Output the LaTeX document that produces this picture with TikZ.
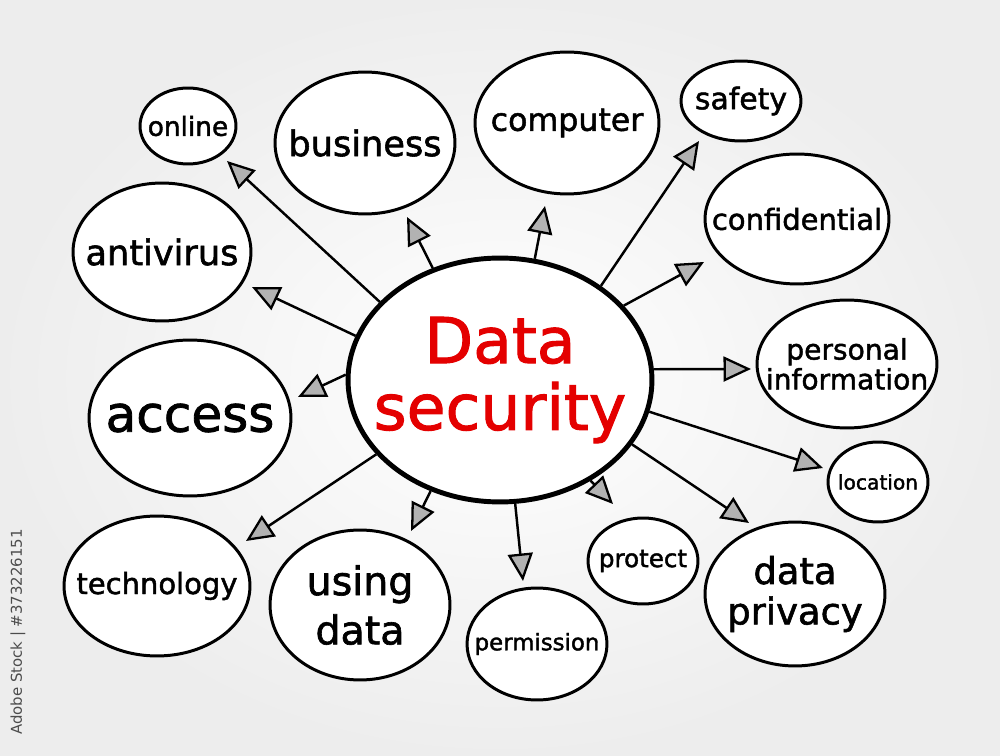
\documentclass[tikz,border=0pt]{standalone}
\usepackage{fontspec}
\setmainfont{DejaVu Sans}[BoldFont=DejaVu Sans, BoldFeatures={FakeBold=1.6}]
\usetikzlibrary{shapes.geometric}
\usetikzlibrary{arrows.meta}

\definecolor{markred}{RGB}{228,0,0}

\tikzset{
  bub/.style 2 args={draw, ellipse, line width=1.7pt, fill=white, inner sep=0pt,
    minimum width=#1*0.04cm, minimum height=#2*0.04cm},
  lab/.style 2 args={font=\fontsize{#1}{#2}\selectfont\bfseries, align=center, inner sep=0pt},
  link/.style={line width=1.4pt, -{Triangle[length=5.5mm, width=5mm, line width=1.3pt, fill=gray!60]}},
}

\begin{document}
\begin{tikzpicture}[x=0.02cm, y=-0.02cm]
\useasboundingbox (0,0) rectangle (1000,756);
\shade[inner color=white, outer color=gray!14] (0,0) rectangle (1000,756);

\node[rotate=90, text=gray!60!black, font=\fontsize{8.5pt}{9pt}\selectfont] (wm) at (18,632) {Adobe Stock | \#373226151};

% centre
\node[bub={152}{122}, line width=2.8pt, label={[lab={36pt}{38pt}, text=markred]center:{Data\\security}}] (c) at (500,380) {};

% outer bubbles
\node[bub={48}{38}, label={[lab={15pt}{17pt}]center:online}] (online) at (188,126) {};
\node[bub={90}{71}, label={[lab={20pt}{22pt}]center:business}] (business) at (365,143) {};
\node[bub={92}{71}, label={[lab={18pt}{20pt}]center:computer}] (computer) at (567,123) {};
\node[bub={60}{40}, label={[lab={17pt}{19pt}]center:safety}] (safety) at (741,101) {};
\node[bub={92}{65}, label={[lab={16.5pt}{18pt}]center:confidential}] (confidential) at (797,219) {};
\node[bub={90}{64}, label={[lab={16pt}{17pt}]center:{personal\\information}}] (personal) at (847,364) {};
\node[bub={50}{40}, label={[lab={11.5pt}{13pt}]center:location}] (location) at (878,482) {};
\node[bub={90}{72}, label={[lab={21pt}{23pt}]center:{data\\privacy}}] (privacy) at (795,594) {};
\node[bub={55}{43}, label={[lab={14pt}{16pt}]center:protect}] (protect) at (643,561) {};
\node[bub={70}{56}, label={[lab={13pt}{15pt}]center:permission}] (permission) at (537,644) {};
\node[bub={90}{75}, label={[lab={22.5pt}{28pt}]center:{using\\data}}] (using) at (360,605) {};
\node[bub={93}{70}, label={[lab={16.5pt}{18pt}]center:technology}] (technology) at (157,586) {};
\node[bub={101}{78}, label={[lab={28.5pt}{30pt}]center:access}] (access) at (190,418) {};
\node[bub={89}{69}, label={[lab={20pt}{22pt}]center:antivirus}] (antivirus) at (162,252) {};

% arrow ends
\coordinate (t-online) at (227,161);
\coordinate (t-business) at (407,217);
\coordinate (t-computer) at (545,206);
\coordinate (t-safety) at (699,141);
\coordinate (t-confidential) at (704,262);
\coordinate (t-personal) at (751,369);
\coordinate (t-location) at (823,468);
\coordinate (t-privacy) at (749,523);
\coordinate (t-protect) at (613,504);
\coordinate (t-permission) at (523,581);
\coordinate (t-using) at (411,531);
\coordinate (t-technology) at (246,541);
\coordinate (t-access) at (298,397);
\coordinate (t-antivirus) at (252,287);

\foreach \a/\t in {147/online, 121/business, 74/computer, 43/safety, 31/confidential,
  4/personal, -12/location, -26/privacy, -48/protect, -83/permission,
  -122/using, -149/technology, 178/access, 163/antivirus}
  \draw[link] (c.\a) -- (t-\t);
\end{tikzpicture}
\end{document}
